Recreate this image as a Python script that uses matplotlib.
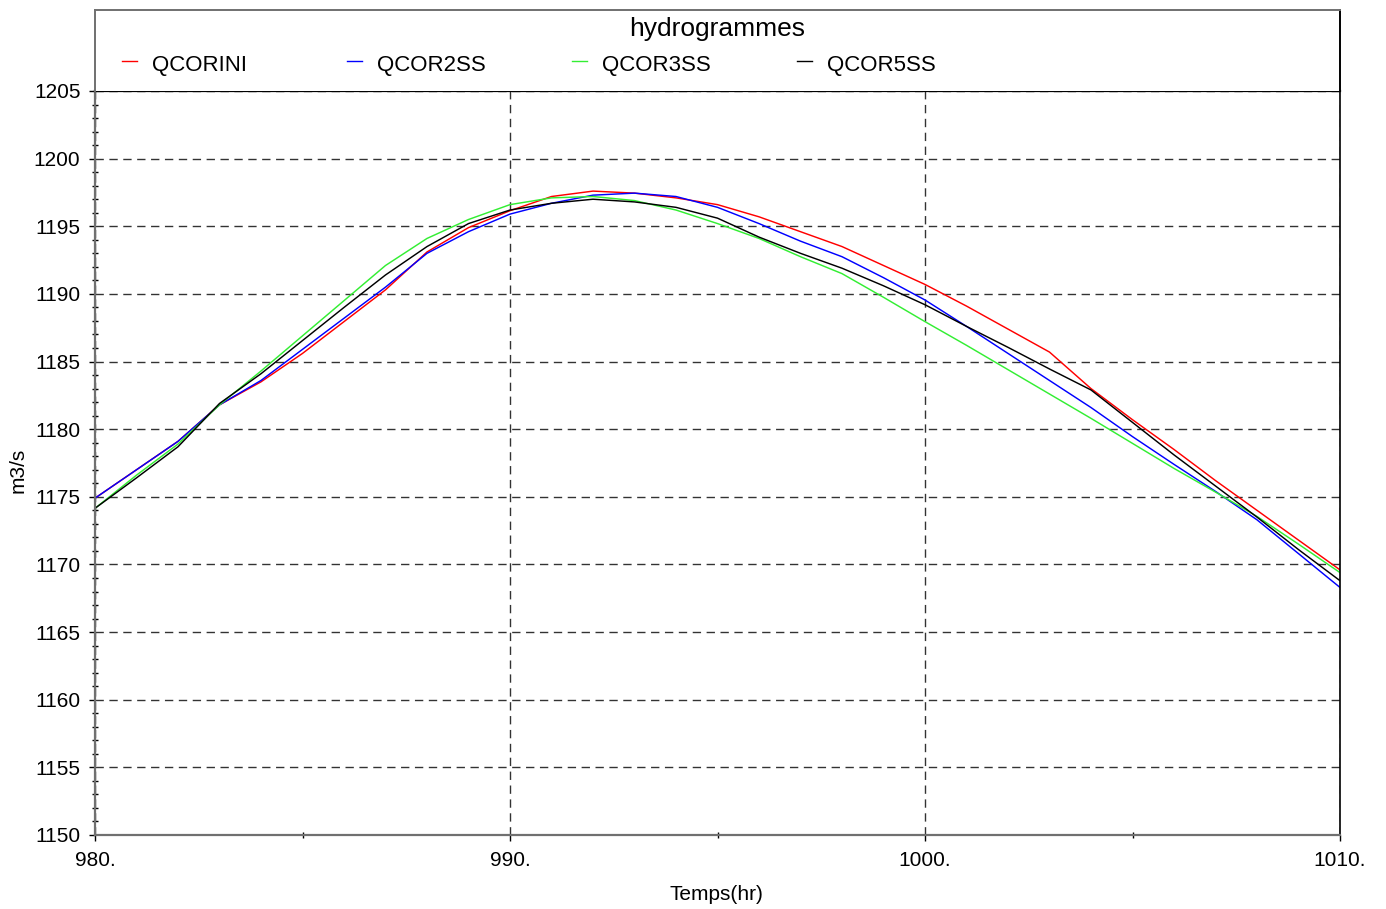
import numpy as np
import matplotlib
matplotlib.use('Agg')
import matplotlib.pyplot as plt
from matplotlib.ticker import MultipleLocator, FuncFormatter

plt.rcParams['font.family'] = ['Liberation Sans', 'DejaVu Sans']

# hours
temps = np.arange(980, 1011)

# discharges (m3/s)
qcorini = [1174.9, 1177.0, 1179.1, 1181.8, 1183.5, 1185.6, 1187.95, 1190.3, 1193.1, 1194.9,
           1196.15, 1197.2, 1197.6, 1197.45, 1197.1, 1196.6, 1195.7, 1194.6, 1193.5, 1192.1,
           1190.7, 1189.1, 1187.4, 1185.7, 1183.0, 1180.7, 1178.5, 1176.2, 1174.0, 1171.8, 1169.6]
qcor2ss = [1174.9, 1177.0, 1179.1, 1181.8, 1183.6, 1185.9, 1188.2, 1190.5, 1193.0, 1194.6,
           1195.9, 1196.7, 1197.3, 1197.45, 1197.2, 1196.4, 1195.2, 1193.9, 1192.75, 1191.2,
           1189.55, 1187.6, 1185.6, 1183.6, 1181.6, 1179.45, 1177.4, 1175.4, 1173.3, 1170.8, 1168.3]
qcor3ss = [1174.15, 1176.6, 1178.9, 1181.8, 1184.3, 1186.9, 1189.5, 1192.1, 1194.1, 1195.5,
           1196.6, 1197.1, 1197.2, 1196.9, 1196.2, 1195.2, 1194.1, 1192.75, 1191.5, 1189.75,
           1187.95, 1186.2, 1184.4, 1182.6, 1180.8, 1178.95, 1177.1, 1175.35, 1173.55, 1171.5, 1169.4]
qcor5ss = [1174.15, 1176.4, 1178.7, 1181.9, 1184.1, 1186.55, 1189.0, 1191.4, 1193.5, 1195.2,
           1196.2, 1196.7, 1197.0, 1196.8, 1196.4, 1195.6, 1194.2, 1193.0, 1191.9, 1190.6,
           1189.2, 1187.6, 1186.05, 1184.45, 1182.9, 1180.5, 1178.1, 1175.8, 1173.5, 1171.1, 1168.8]

noms = ['QCORINI', 'QCOR2SS', 'QCOR3SS', 'QCOR5SS']
couleurs = ['#ff0000', '#0000ff', '#33ee33', '#000000']
series = [qcorini, qcor2ss, qcor3ss, qcor5ss]

W, H = 1386, 909
fig = plt.figure(figsize=(W / 100, H / 100), dpi=100)

# main plot area
ax = fig.add_axes([95 / W, (H - 835) / H, (1340 - 95) / W, (835 - 91) / H])
for q, c in zip(series, couleurs):
    ax.plot(temps, q, color=c, lw=1.05)

ax.set_xlim(980, 1010)
ax.set_ylim(1150, 1205)
ax.xaxis.set_major_locator(MultipleLocator(10))
ax.xaxis.set_minor_locator(MultipleLocator(5))
ax.yaxis.set_major_locator(MultipleLocator(5))
ax.yaxis.set_minor_locator(MultipleLocator(1))
ax.xaxis.set_major_formatter(FuncFormatter(lambda v, p: '%d.' % v))
ax.yaxis.set_major_formatter(FuncFormatter(lambda v, p: '%d' % v))
ax.tick_params(which='major', direction='out', length=4.5, width=1, labelsize=15)
ax.tick_params(axis='y', which='major', pad=6)
ax.tick_params(axis='x', which='major', pad=7)
ax.tick_params(which='minor', direction='inout', length=5, width=1)
ax.tick_params(axis='x', which='minor', length=4.5)

ax.grid(which='major', linestyle=(0, (6, 4)), color='#333333', lw=1.0)
ax.spines['left'].set_color('#707070')
ax.spines['left'].set_linewidth(1.6)
ax.spines['bottom'].set_color('#707070')
ax.spines['bottom'].set_linewidth(1.6)
ax.spines['right'].set_color('black')
ax.spines['right'].set_linewidth(1.2)
ax.spines['top'].set_color('black')
ax.spines['top'].set_linewidth(1.6)

ax.set_xlabel('Temps(hr)', fontsize=15)
ax.set_ylabel('m3/s', fontsize=15)
ax.xaxis.set_label_coords(0.499, -0.067)
ax.yaxis.set_label_coords(-0.054, 0.49)

# header box with title and legend
hd = fig.add_axes([95 / W, (H - 91) / H, (1340 - 95) / W, (91 - 10) / H])
hd.set_xlim(0, 1)
hd.set_ylim(0, 1)
hd.set_xticks([])
hd.set_yticks([])
hd.spines['top'].set_color('#707070')
hd.spines['left'].set_color('#707070')
hd.spines['right'].set_color('black')
hd.spines['bottom'].set_visible(False)
for s in ['top', 'left', 'right']:
    hd.spines[s].set_linewidth(1.4)
hd.text(0.5, 0.76, 'hydrogrammes', ha='center', va='center', fontsize=19)
for i, (n, c) in enumerate(zip(noms, couleurs)):
    x0 = 0.0217 + i * 0.1807
    hd.plot([x0, x0 + 0.012], [0.37, 0.37], color=c, lw=1.0)
    hd.text(x0 + 0.024, 0.32, n, ha='left', va='center', fontsize=16)

fig.savefig('out.png', dpi=100)
